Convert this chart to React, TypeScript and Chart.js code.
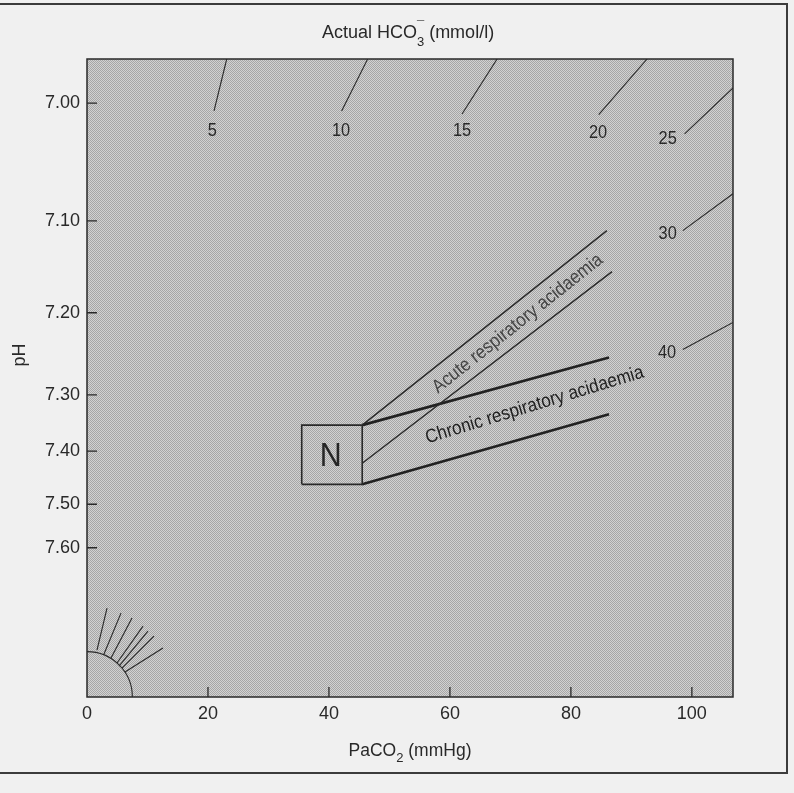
import React, { useEffect, useRef } from "react";
import { Chart, registerables } from "chart.js";

Chart.register(...registerables);

// ---------- axes ----------
const xMax = 106.8; // PaCO2 (mmHg)
const yMax = 105.6; // [H+] scale, labelled as pH
const xTicks = [0, 20, 40, 60, 80, 100];
const yTickH = [98.3, 78.8, 63.6, 50.0, 40.7, 31.9, 24.7];
const yTickLabels = ["7.00", "7.10", "7.20", "7.30", "7.40", "7.50", "7.60"];

// ---------- HCO3 isopleths ----------
const isoLabels = ["5", "10", "15", "20", "25", "30", "40"];
const isoStartX = [23.1, 46.4, 67.8, 92.6, 106.8, 106.8, 106.8];
const isoStartY = [105.6, 105.6, 105.6, 105.6, 100.8, 83.3, 62.0];
const isoEndX = [21.0, 42.1, 62.0, 84.6, 98.8, 98.5, 98.5];
const isoEndY = [97.0, 97.0, 96.5, 96.4, 93.2, 77.2, 57.5];
const isoLabelX = [20.7, 42.0, 62.0, 84.5, 96.0, 96.0, 95.9];
const isoLabelY = [93.7, 93.7, 93.7, 93.4, 92.4, 76.7, 56.9];

// ---------- normal box ----------
const nBoxX = [35.5, 45.5, 45.5, 35.5, 35.5];
const nBoxY = [35.2, 35.2, 45.0, 45.0, 35.2];
const nLabel = "N";
const nLabelX = 40.3;
const nLabelY = 39.7;

// ---------- bands ----------
const acuteUpperX = [45.5, 85.95];
const acuteUpperY = [45.0, 77.2];
const acuteLowerX = [45.5, 86.8];
const acuteLowerY = [38.7, 70.4];
const chronicUpperX = [45.5, 86.3];
const chronicUpperY = [45.0, 56.2];
const chronicLowerX = [45.5, 86.3];
const chronicLowerY = [35.2, 46.8];
const bandLabels = ["Acute respiratory acidaemia", "Chronic respiratory acidaemia"];
const bandLabelX = [71.2, 74.0];
const bandLabelY = [61.8, 48.3];
const bandLabelAngle = [-38.5, -17];

// ---------- "sun" of isopleth origins ----------
const sunRadius = 7.5;
const rayInnerX = [1.65, 2.81, 3.97, 4.96, 5.29, 5.79, 6.28];
const rayInnerY = [7.77, 7.11, 6.45, 5.62, 5.12, 4.79, 4.13];
const rayOuterX = [3.31, 5.62, 7.44, 9.26, 10.08, 11.07, 12.56];
const rayOuterY = [14.71, 13.88, 13.06, 11.74, 10.91, 10.08, 8.1];

const INK = "#292929";
const FAMILY = "'Liberation Sans', Arial, Helvetica, sans-serif";

const seg = (xs: number[], ys: number[]) => xs.map((x, i) => ({ x, y: ys[i] }));

export default function App() {
  const ref = useRef<HTMLCanvasElement | null>(null);

  useEffect(() => {
    const canvas = ref.current!;
    const family = FAMILY;

    // halftone pattern for plot area
    const tile = document.createElement("canvas");
    tile.width = 2;
    tile.height = 2;
    const tc = tile.getContext("2d")!;
    tc.fillStyle = "#d2d2d2";
    tc.fillRect(0, 0, 2, 2);
    tc.fillStyle = "#a6a6a6";
    tc.fillRect(0, 0, 1, 1);
    tc.fillRect(1, 1, 1, 1);

    const datasets: any[] = [];
    const line = (data: any[], width: number, color = INK) => ({
      data,
      showLine: true,
      borderColor: color,
      borderWidth: width,
      pointRadius: 0,
      fill: false,
      tension: 0,
    });
    isoLabels.forEach((_, i) =>
      datasets.push(line(seg([isoStartX[i], isoEndX[i]], [isoStartY[i], isoEndY[i]]), 1.1))
    );
    rayInnerX.forEach((_, i) =>
      datasets.push(line(seg([rayInnerX[i], rayOuterX[i]], [rayInnerY[i], rayOuterY[i]]), 1.1))
    );
    datasets.push(line(seg(nBoxX, nBoxY), 1.6));
    datasets.push(line(seg(acuteUpperX, acuteUpperY), 1.4));
    datasets.push(line(seg(acuteLowerX, acuteLowerY), 1.4));
    datasets.push(line(seg(chronicUpperX, chronicUpperY), 2.6, "#222222"));
    datasets.push(line(seg(chronicLowerX, chronicLowerY), 2.6, "#222222"));

    const txt = (
      ctx: CanvasRenderingContext2D,
      s: string,
      x: number,
      y: number,
      size: number,
      sq = 1,
      angleDeg = 0,
      color = INK
    ) => {
      ctx.save();
      ctx.translate(x, y);
      ctx.rotate((angleDeg * Math.PI) / 180);
      ctx.scale(sq, 1);
      ctx.font = `${size}px ${family}`;
      ctx.fillStyle = color;
      ctx.textAlign = "center";
      ctx.textBaseline = "middle";
      ctx.fillText(s, 0, 0);
      ctx.restore();
    };

    // draws a run of [text, size, dy] pieces centred on cx, baseline at by
    const runs = (ctx: CanvasRenderingContext2D, parts: [string, number, number][], cx: number, by: number) => {
      ctx.save();
      let total = 0;
      const widths = parts.map(([s, size]) => {
        ctx.font = `${size}px ${family}`;
        const w = s === "\u00af" ? 0 : ctx.measureText(s).width;
        total += w;
        return w;
      });
      let x = cx - total / 2;
      ctx.fillStyle = INK;
      ctx.textBaseline = "alphabetic";
      ctx.textAlign = "left";
      let prevX = x;
      parts.forEach(([s, size, dy], i) => {
        ctx.font = `${size}px ${family}`;
        const drawX = s === "\u00af" ? prevX : x;
        ctx.fillText(s, drawX, by + dy);
        prevX = x;
        x += widths[i];
      });
      ctx.restore();
    };

    const plugin = {
      id: "nomogram",
      beforeDraw(chart: any) {
        const { ctx, chartArea: a } = chart;
        ctx.save();
        ctx.fillStyle = "#f0f0f0";
        ctx.fillRect(0, 0, chart.width, chart.height);
        ctx.strokeStyle = "#3c3c3c";
        ctx.lineWidth = 2;
        ctx.beginPath();
        ctx.moveTo(0, 4);
        ctx.lineTo(chart.width - 7, 4);
        ctx.lineTo(chart.width - 7, chart.height - 20);
        ctx.lineTo(0, chart.height - 20);
        ctx.stroke();
        ctx.fillStyle = ctx.createPattern(tile, "repeat");
        ctx.fillRect(a.left, a.top, a.right - a.left, a.bottom - a.top);
        ctx.restore();
      },
      afterDatasetsDraw(chart: any) {
        const { ctx, chartArea: a } = chart;
        const xs = chart.scales.x;
        const ys = chart.scales.y;
        ctx.save();
        // plot frame
        ctx.strokeStyle = INK;
        ctx.lineWidth = 1.5;
        ctx.strokeRect(a.left, a.top, a.right - a.left, a.bottom - a.top);
        // inner ticks
        ctx.lineWidth = 1.3;
        ctx.beginPath();
        xs.ticks.forEach((t: any) => {
          if (t.value === 0) return;
          const px = xs.getPixelForValue(t.value);
          ctx.moveTo(px, a.bottom);
          ctx.lineTo(px, a.bottom - 10);
        });
        ys.ticks.forEach((t: any) => {
          const py = ys.getPixelForValue(t.value);
          ctx.moveTo(a.left, py);
          ctx.lineTo(a.left + 10, py);
        });
        ctx.stroke();
        // sun arc
        const ox = xs.getPixelForValue(0);
        const oy = ys.getPixelForValue(0);
        const r = xs.getPixelForValue(sunRadius) - ox;
        ctx.lineWidth = 1.1;
        ctx.beginPath();
        ctx.arc(ox, oy, r, -Math.PI / 2, 0);
        ctx.stroke();
        ctx.restore();

        // isopleth labels
        isoLabels.forEach((s, i) =>
          txt(ctx, s, xs.getPixelForValue(isoLabelX[i]), ys.getPixelForValue(isoLabelY[i]), 19, 0.86)
        );
        // N
        txt(ctx, nLabel, xs.getPixelForValue(nLabelX), ys.getPixelForValue(nLabelY), 33, 0.92, 0, "#262626");
        // band labels
        bandLabels.forEach((s, i) =>
          txt(
            ctx,
            s,
            xs.getPixelForValue(bandLabelX[i]),
            ys.getPixelForValue(bandLabelY[i]),
            19,
            0.9,
            bandLabelAngle[i],
            i === 0 ? "#444444" : "#1f1f1f"
          )
        );
        // axis titles
        const cx = (a.left + a.right) / 2;
        runs(ctx, [["Actual HCO", 18, 0], ["3", 13, 8], ["\u00af", 13, -8], [" (mmol/l)", 18, 0]], cx - 2, 38);
        runs(ctx, [["PaCO", 17.5, 0], ["2", 13, 6], [" (mmHg)", 17.5, 0]], cx, 756);
        txt(ctx, "pH", 20, 355, 18, 1, -90);
      },
    };

    const chart = new Chart(canvas, {
      type: "scatter",
      data: { datasets },
      options: {
        animation: false,
        responsive: false,
        devicePixelRatio: 1,
        layout: { padding: { left: 0, right: 61, top: 59, bottom: 56 } },
        plugins: { legend: { display: false }, tooltip: { enabled: false }, title: { display: false } },
        scales: {
          x: {
            type: "linear",
            min: 0,
            max: xMax,
            grid: { display: false, drawTicks: false },
            border: { display: false },
            afterBuildTicks: (s: any) => {
              s.ticks = xTicks.map((v) => ({ value: v }));
            },
            afterFit: (s: any) => {
              s.height = 40;
            },
            ticks: {
              color: INK,
              font: { family, size: 18 },
              padding: 6,
              maxRotation: 0,
              autoSkip: false,
            },
          },
          y: {
            type: "linear",
            min: 0,
            max: yMax,
            grid: { display: false, drawTicks: false },
            border: { display: false },
            afterBuildTicks: (s: any) => {
              s.ticks = yTickH.map((v) => ({ value: v }));
            },
            afterFit: (s: any) => {
              s.width = 87;
            },
            ticks: {
              color: INK,
              font: { family, size: 18 },
              padding: 7,
              autoSkip: false,
              callback: (_v: any, i: number) => yTickLabels[i],
            },
          },
        },
      },
      plugins: [plugin],
    } as any);

    return () => chart.destroy();
  }, []);

  return (
    <div style={{ position: "fixed", left: 0, top: 0, width: 794, height: 793 }}>
      <canvas ref={ref} width={794} height={793} style={{ display: "block" }} />
    </div>
  );
}
